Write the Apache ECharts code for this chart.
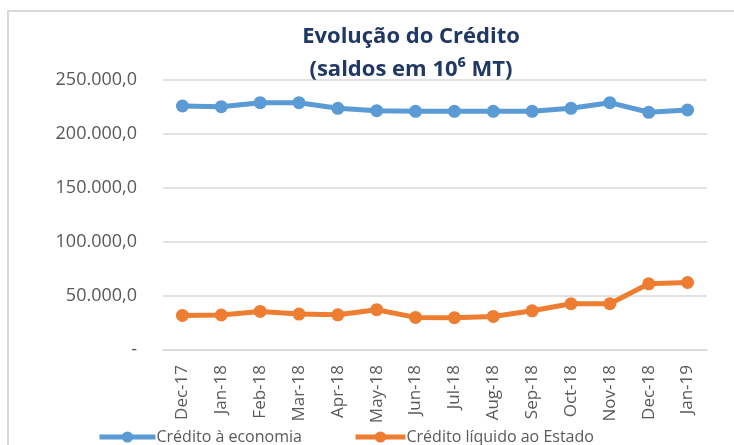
<!DOCTYPE html>
<html>
<head>
<meta charset="utf-8">
<script src="https://cdn.jsdelivr.net/npm/echarts@6/dist/echarts.min.js"></script>
<style>
  html, body { margin: 0; padding: 0; background: #fff; }
  #chart { width: 734px; height: 445px; }
</style>
</head>
<body>
<div id="chart"></div>
<script>
// meses (eixo x)
const months = ["Dec-17", "Jan-18", "Feb-18", "Mar-18", "Apr-18", "May-18", "Jun-18",
  "Jul-18", "Aug-18", "Sep-18", "Oct-18", "Nov-18", "Dec-18", "Jan-19"];

// saldos em 10^6 MT
const creditoEconomia = [225900, 225300, 229000, 229000, 223800, 221600, 221000,
  221000, 221000, 221000, 223800, 229000, 220100, 222200];
const creditoEstado = [32000, 32400, 35700, 33300, 32600, 37300, 30200,
  29900, 31100, 36300, 42800, 42800, 61300, 62500];

const yTicks = [0, 50000, 100000, 150000, 200000, 250000];

const font = "'Open Sans', 'Noto Sans', sans-serif";
const gray = "#595959";

function fmt(v) {
  if (v === 0) return "-";
  const s = String(Math.round(v)).replace(/\B(?=(\d{3})+(?!\d))/g, ".");
  return s + ",0";
}

const legendText = { color: gray, fontFamily: font, fontSize: 16, padding: [0, 0, 0, -4] };

const chart = echarts.init(document.getElementById("chart"));

chart.setOption({
  animation: false,
  graphic: [
    {
      type: "polyline",
      shape: { points: [[8, 460], [8, 11], [750, 11]] },
      style: { stroke: "#d9d9d9", lineWidth: 2, fill: null },
      silent: true
    }
  ],
  title: {
    text: "Evolução do Crédito\n(saldos em 10⁶ MT)",
    left: 406,
    textAlign: "center",
    top: 15,
    textStyle: {
      color: "#1F3864",
      fontFamily: font,
      fontWeight: "bold",
      fontSize: 22,
      lineHeight: 33
    }
  },
  legend: [
    {
      left: 92,
      top: 424,
      itemWidth: 56,
      itemHeight: 14,
      lineStyle: { width: 5 },
      textStyle: legendText,
      data: ["Crédito à economia"]
    },
    {
      left: 348,
      top: 424,
      itemWidth: 50,
      itemHeight: 14,
      lineStyle: { width: 5 },
      textStyle: legendText,
      data: ["Crédito líquido ao Estado"]
    }
  ],
  grid: { left: 163, right: 27, top: 80, bottom: 95, containLabel: false },
  xAxis: {
    type: "category",
    data: months,
    boundaryGap: true,
    axisTick: { show: false },
    axisLine: { show: true, lineStyle: { color: "#d9d9d9", width: 1.5 } },
    axisLabel: {
      rotate: 90,
      margin: 15,
      color: gray,
      fontFamily: font,
      fontSize: 17,
      interval: 0
    }
  },
  yAxis: {
    type: "value",
    min: 0,
    max: 250000,
    interval: 50000,
    axisLine: { show: false },
    axisTick: { show: false },
    splitLine: { lineStyle: { color: "#d9d9d9", width: 1.5 } },
    axisLabel: {
      color: gray,
      fontFamily: font,
      fontSize: 18,
      margin: 26,
      formatter: function (v) { return yTicks.indexOf(v) >= 0 ? fmt(v) : ""; }
    }
  },
  series: [
    {
      name: "Crédito à economia",
      type: "line",
      data: creditoEconomia,
      symbol: "circle",
      symbolSize: 13,
      lineStyle: { color: "#5B9BD5", width: 5 },
      itemStyle: { color: "#5B9BD5" }
    },
    {
      name: "Crédito líquido ao Estado",
      type: "line",
      data: creditoEstado,
      symbol: "circle",
      symbolSize: 13,
      lineStyle: { color: "#ED7D31", width: 5 },
      itemStyle: { color: "#ED7D31" }
    }
  ]
});
</script>
</body>
</html>
